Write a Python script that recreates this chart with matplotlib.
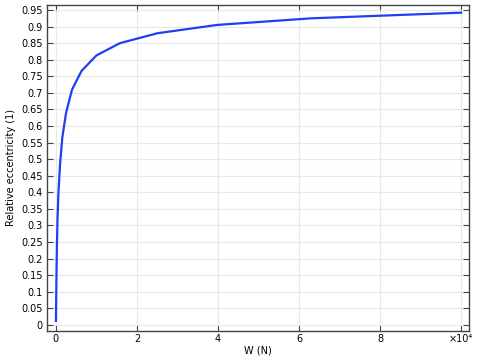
import numpy as np
import matplotlib
matplotlib.use("Agg")
import matplotlib.pyplot as plt

# load W (N), scaled by 1e4 for the axis
load_w = [0.001, 0.00158, 0.00251, 0.00398, 0.00631, 0.01, 0.0158, 0.0251,
          0.0398, 0.0631, 0.1, 0.158, 0.251, 0.398, 0.631, 1.0, 1.58, 2.51,
          3.98, 6.31, 10.0]
# relative eccentricity (1)
ecc = [0.012, 0.02, 0.03, 0.045, 0.07, 0.11, 0.17, 0.24, 0.32, 0.40, 0.48,
       0.565, 0.64, 0.71, 0.766, 0.813, 0.85, 0.88, 0.905, 0.925, 0.942]

xticks = [0, 2, 4, 6, 8, 10]
xticklabels = ['0', '2', '4', '6', '8', '×10⁴']
yticks = np.round(np.arange(0, 0.951, 0.05), 2)

fig = plt.figure(figsize=(4.82, 3.6), dpi=100)
ax = fig.add_axes([0.0975, 0.081, 0.876, 0.905])

ax.plot(load_w, ecc, color='#1f3ff0', lw=1.6)

ax.set_xlim(-0.22, 10.2)
ax.set_ylim(-0.018, 0.965)
ax.set_xticks(xticks)
ax.set_xticklabels(xticklabels)
ax.set_yticks(yticks)
ax.set_yticklabels(['%g' % v for v in yticks])

ax.grid(True, color='#e8e8e8', lw=0.8)
ax.set_axisbelow(True)
ax.tick_params(direction='in', top=True, right=True, labelsize=7,
               length=4, width=0.8, color='#444444')
ax.tick_params(axis='x', pad=2)
ax.tick_params(axis='y', pad=3)
for s in ax.spines.values():
    s.set_color('#444444')
    s.set_linewidth(1.0)

ax.set_xlabel('W (N)', fontsize=7, labelpad=1)
ax.set_ylabel('Relative eccentricity (1)', fontsize=7, labelpad=4)

fig.savefig('out.png', dpi=100)
